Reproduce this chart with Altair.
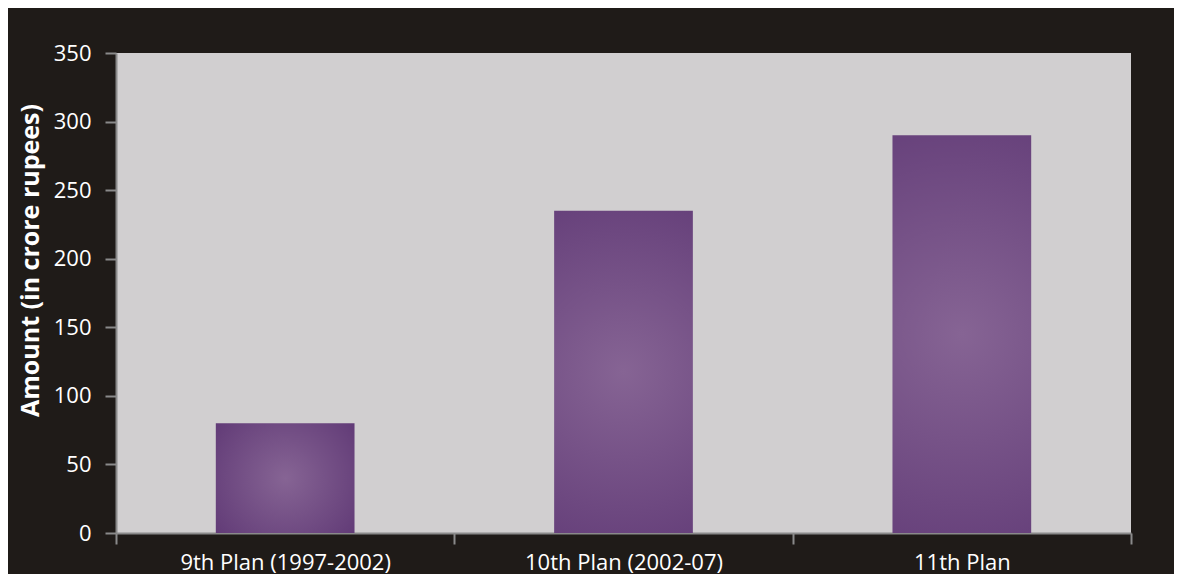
import altair as alt
import pandas as pd

plans = ["9th Plan (1997-2002)", "10th Plan (2002-07)", "11th  Plan"]
amounts = [80, 235, 290]
y_ticks = [0, 50, 100, 150, 200, 250, 300, 350]

df = pd.DataFrame({"plan": plans, "amount": amounts})

grad = alt.RadialGradient(
    gradient="radial",
    x1=0.5, y1=0.5, r1=0,
    x2=0.5, y2=0.5, r2=0.7,
    stops=[
        alt.GradientStop(offset=0, color="#866494"),
        alt.GradientStop(offset=1, color="#5e3774"),
    ],
)

FONT = "Open Sans"
AXIS_GRAY = "#8a8a8a"

chart = alt.Chart(df).mark_bar(color=grad, width=alt.RelativeBandSize(0.41)).encode(
    x=alt.X(
        "plan:N",
        sort=plans,
        title=None,
        scale=alt.Scale(paddingInner=0, paddingOuter=0),
        axis=alt.Axis(
            labelAngle=0,
            labelFont=FONT,
            labelFontSize=22,
            labelColor="white",
            labelBaseline="alphabetic",
            labelPadding=25,
            labelLimit=500,
            tickBand="extent",
            tickSize=11,
            tickColor=AXIS_GRAY,
            tickWidth=2,
            domainColor=AXIS_GRAY,
            domainWidth=2,
        ),
    ),
    y=alt.Y(
        "amount:Q",
        title="Amount (in crore rupees)",
        scale=alt.Scale(domain=[0, 350], nice=False),
        axis=alt.Axis(
            values=y_ticks,
            grid=False,
            labelFont=FONT,
            labelFontSize=22,
            labelColor="white",
            labelPadding=14,
            tickSize=11,
            tickColor=AXIS_GRAY,
            tickWidth=2,
            domainColor=AXIS_GRAY,
            domainWidth=2,
            titleFont=FONT,
            titleFontSize=25,
            titleFontWeight="bold",
            titleColor="white",
            titlePadding=10,
            titleY=207,
        ),
    ),
).properties(
    width=1015,
    height=480,
    background="#1f1b18",
    padding={"left": 108, "top": 45, "right": 43, "bottom": 41},
    autosize=alt.AutoSizeParams(type="none"),
).configure_view(
    fill="#d1cfd0",
    stroke=None,
)

chart.save("out.html", embed_options={"renderer": "svg", "actions": False})
